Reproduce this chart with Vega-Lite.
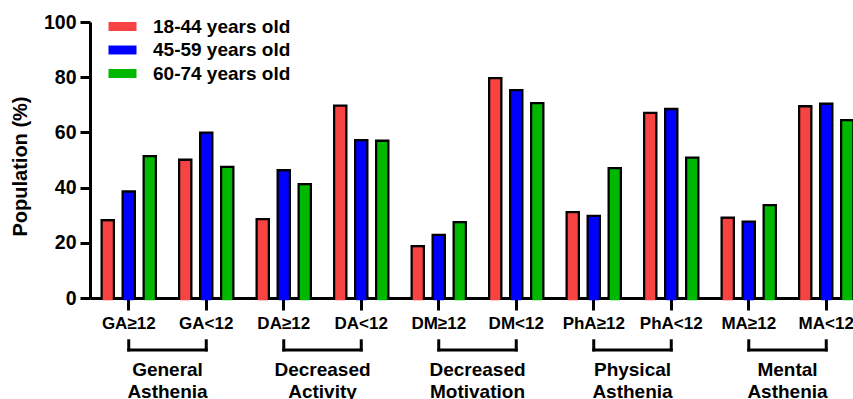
{
  "$schema": "https://vega.github.io/schema/vega-lite/v6.json",
  "autosize": {"type": "none"},
  "padding": {"left": 90, "top": 22, "right": 0, "bottom": 101},
  "width": 763,
  "height": 276,
  "config": {
    "view": {"stroke": null},
    "font": "Liberation Sans",
    "axis": {"labelFont": "Liberation Sans", "titleFont": "Liberation Sans", "labelFontWeight": "bold", "titleFontWeight": "bold", "labelColor": "black", "titleColor": "black", "domainColor": "black", "tickColor": "black", "domainWidth": 3, "tickWidth": 3, "grid": false},
    "legend": {"labelFont": "Liberation Sans", "labelFontWeight": "bold"}
  },
  "datasets": {
    "bars": [
      {"cat": "GA≥12", "age": "18-44 years old", "value": 28.6},
      {"cat": "GA≥12", "age": "45-59 years old", "value": 39.0},
      {"cat": "GA≥12", "age": "60-74 years old", "value": 51.8},
      {"cat": "GA<12", "age": "18-44 years old", "value": 50.5},
      {"cat": "GA<12", "age": "45-59 years old", "value": 60.3},
      {"cat": "GA<12", "age": "60-74 years old", "value": 47.9},
      {"cat": "DA≥12", "age": "18-44 years old", "value": 29.0},
      {"cat": "DA≥12", "age": "45-59 years old", "value": 46.7},
      {"cat": "DA≥12", "age": "60-74 years old", "value": 41.7},
      {"cat": "DA<12", "age": "18-44 years old", "value": 70.1},
      {"cat": "DA<12", "age": "45-59 years old", "value": 57.6},
      {"cat": "DA<12", "age": "60-74 years old", "value": 57.4},
      {"cat": "DM≥12", "age": "18-44 years old", "value": 19.2},
      {"cat": "DM≥12", "age": "45-59 years old", "value": 23.3},
      {"cat": "DM≥12", "age": "60-74 years old", "value": 27.9},
      {"cat": "DM<12", "age": "18-44 years old", "value": 80.1},
      {"cat": "DM<12", "age": "45-59 years old", "value": 75.7},
      {"cat": "DM<12", "age": "60-74 years old", "value": 71.0},
      {"cat": "PhA≥12", "age": "18-44 years old", "value": 31.5},
      {"cat": "PhA≥12", "age": "45-59 years old", "value": 30.2},
      {"cat": "PhA≥12", "age": "60-74 years old", "value": 47.5},
      {"cat": "PhA<12", "age": "18-44 years old", "value": 67.5},
      {"cat": "PhA<12", "age": "45-59 years old", "value": 68.9},
      {"cat": "PhA<12", "age": "60-74 years old", "value": 51.3},
      {"cat": "MA≥12", "age": "18-44 years old", "value": 29.5},
      {"cat": "MA≥12", "age": "45-59 years old", "value": 28.1},
      {"cat": "MA≥12", "age": "60-74 years old", "value": 34.1},
      {"cat": "MA<12", "age": "18-44 years old", "value": 69.9},
      {"cat": "MA<12", "age": "45-59 years old", "value": 70.8},
      {"cat": "MA<12", "age": "60-74 years old", "value": 64.9}
    ],
    "groups": [
      {"start": "GA≥12", "end": "GA<12", "label": "General\nAsthenia"},
      {"start": "DA≥12", "end": "DA<12", "label": "Decreased\nActivity"},
      {"start": "DM≥12", "end": "DM<12", "label": "Decreased\nMotivation"},
      {"start": "PhA≥12", "end": "PhA<12", "label": "Physical\nAsthenia"},
      {"start": "MA≥12", "end": "MA<12", "label": "Mental\nAsthenia"}
    ]
  },
  "resolve": {"scale": {"xOffset": "independent"}},
  "layer": [
    {
      "data": {"name": "bars"},
      "mark": {"type": "bar", "fill": "#000000"},
      "encoding": {
        "x": {"field": "cat", "type": "nominal",
          "scale": {"domain": ["GA≥12", "GA<12", "DA≥12", "DA<12", "DM≥12", "DM<12", "PhA≥12", "PhA<12", "MA≥12", "MA<12"], "range": [0, 775], "paddingInner": 0, "paddingOuter": 0},
          "axis": {"title": null, "labelAngle": 0, "labelFontSize": 17, "tickSize": 12, "labelPadding": 5}},
        "xOffset": {"field": "age", "type": "nominal", "scale": {"domain": ["18-44 years old", "45-59 years old", "60-74 years old"], "paddingInner": 0.31, "paddingOuter": 0.5}},
        "y": {"field": "value", "type": "quantitative",
          "scale": {"domain": [0, 100], "nice": false},
          "axis": {"title": "Population (%)", "values": [0, 20, 40, 60, 80, 100], "labelFontSize": 19.5, "tickSize": 10, "labelPadding": 4, "titleFontSize": 20, "titleX": -70, "titleY": 144, "titleAngle": -90, "titleAlign": "center", "titleBaseline": "middle"}}
      }
    },
    {
      "data": {"name": "bars"},
      "mark": {"type": "bar", "yOffset": 2.3},
      "encoding": {
        "x": {"field": "cat", "type": "nominal"},
        "xOffset": {"field": "age", "type": "nominal", "scale": {"domain": ["18-44 years old", "45-59 years old", "60-74 years old"], "paddingInner": 0.524, "paddingOuter": 0.607}},
        "y": {"field": "value", "type": "quantitative"},
        "fill": {"field": "age", "type": "nominal",
          "scale": {"domain": ["18-44 years old", "45-59 years old", "60-74 years old"], "range": ["#F84343", "#0000FF", "#00B800"]},
          "legend": {"title": null, "orient": "none", "legendX": 23, "legendY": -5, "padding": 0, "labelFontSize": 19, "labelColor": "black", "symbolType": "M-2,-0.64L2,-0.64L2,0.64L-2,0.64Z", "symbolSize": 196, "symbolOpacity": 1, "labelOffset": 21, "rowPadding": 3.5}}
      }
    },
    {
      "data": {"name": "groups"},
      "mark": {"type": "rule", "stroke": "black", "strokeWidth": 3, "strokeCap": "square"},
      "encoding": {
        "x": {"field": "start", "type": "nominal"},
        "x2": {"field": "end"},
        "y": {"datum": -18.8, "type": "quantitative"}
      }
    },
    {
      "data": {"name": "groups"},
      "mark": {"type": "rule", "stroke": "black", "strokeWidth": 3, "strokeCap": "square"},
      "encoding": {
        "x": {"field": "start", "type": "nominal"},
        "y": {"datum": -15.5, "type": "quantitative"},
        "y2": {"datum": -18.8}
      }
    },
    {
      "data": {"name": "groups"},
      "mark": {"type": "rule", "stroke": "black", "strokeWidth": 3, "strokeCap": "square"},
      "encoding": {
        "x": {"field": "end", "type": "nominal"},
        "y": {"datum": -15.5, "type": "quantitative"},
        "y2": {"datum": -18.8}
      }
    },
    {
      "data": {"name": "groups"},
      "mark": {"type": "text", "fontSize": 19, "fontWeight": "bold", "font": "Liberation Sans", "lineBreak": "\n", "lineHeight": 21.5, "align": "center", "baseline": "alphabetic", "color": "black"},
      "encoding": {
        "x": {"field": "start", "type": "nominal", "bandPosition": 1},
        "y": {"datum": -28.3, "type": "quantitative"},
        "text": {"field": "label"}
      }
    }
  ]
}
